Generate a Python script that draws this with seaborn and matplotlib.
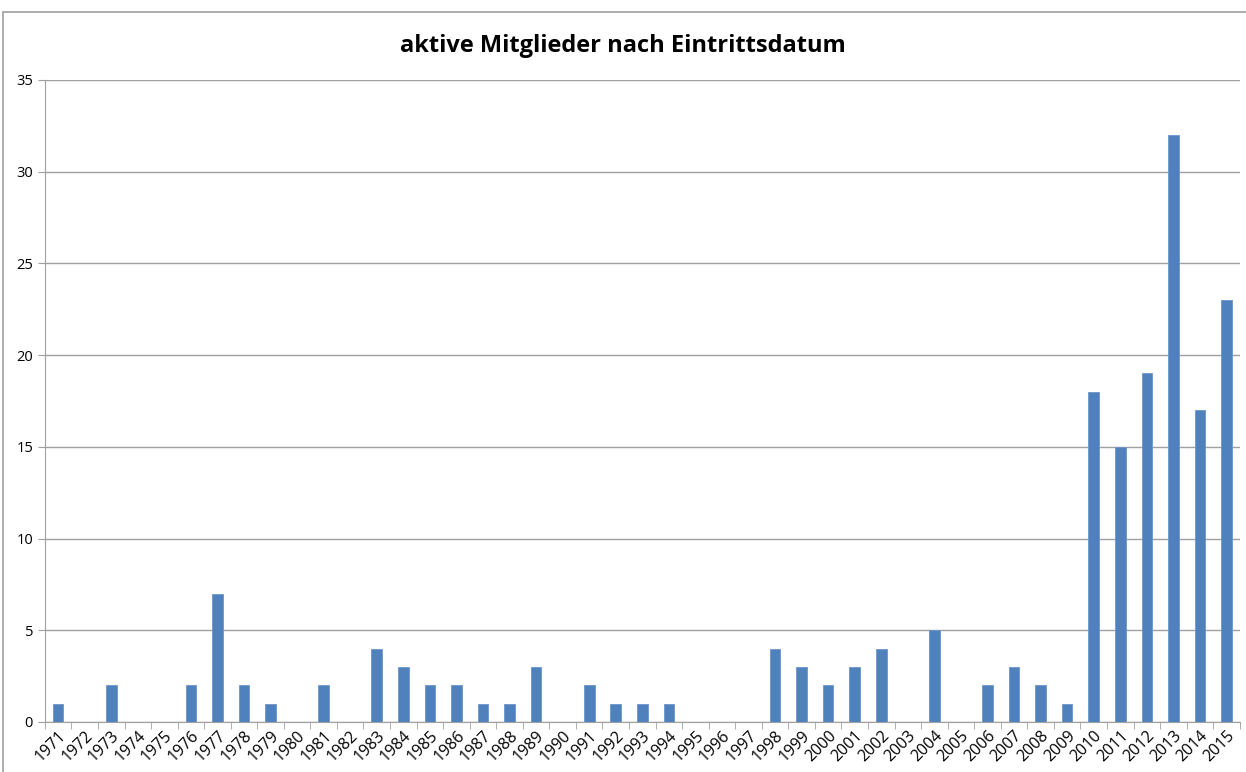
import matplotlib
matplotlib.use("Agg")
import matplotlib.pyplot as plt
import seaborn as sns
import pandas as pd
from matplotlib.patches import Rectangle
from matplotlib.ticker import FixedLocator

# Eintrittsjahre und Anzahl aktiver Mitglieder
jahre = [str(j) for j in range(1971, 2016)]
anzahl = [1, 0, 2, 0, 0, 2, 7, 2, 1, 0,
          2, 0, 4, 3, 2, 2, 1, 1, 3, 0,
          2, 1, 1, 1, 0, 0, 0, 4, 3, 2,
          3, 4, 0, 5, 0, 2, 3, 2, 1, 18,
          15, 19, 32, 17, 23]
titel = "aktive Mitglieder nach Eintrittsdatum"

df = pd.DataFrame({"Jahr": jahre, "Anzahl": anzahl})

sns.set_style("white")
plt.rcParams["font.family"] = ["Open Sans", "DejaVu Sans"]

fig = plt.figure(figsize=(12.46, 7.72), dpi=100)
ax = fig.add_axes([0.036, 0.0648, 0.959, 0.8316])

sns.barplot(data=df, x="Jahr", y="Anzahl", color="#4F81BD", width=0.4,
            saturation=1, edgecolor="#6E95C8", linewidth=0.6, ax=ax)

ax.set_xlim(-0.5, len(jahre) - 0.5)
ax.set_ylim(0, 35)
ax.set_yticks(range(0, 36, 5))
ax.yaxis.grid(True, color="#A0A0A0", linewidth=1)
ax.set_axisbelow(True)
ax.set_xlabel("")
ax.set_ylabel("")

for s in ["top", "right"]:
    ax.spines[s].set_visible(False)
ax.spines["left"].set_color("#A0A0A0")
ax.spines["bottom"].set_color("#A0A0A0")

# Teilstriche zwischen den Kategorien
ax.xaxis.set_minor_locator(FixedLocator([i - 0.5 for i in range(len(jahre) + 1)]))
ax.tick_params(axis="x", which="minor", length=5, color="#A0A0A0", direction="out", bottom=True)
ax.tick_params(axis="x", which="major", length=0, pad=4, labelcolor="black")
ax.tick_params(axis="y", length=5, color="#A0A0A0", direction="out", left=True,
               labelsize=10.5, labelcolor="black")
plt.setp(ax.get_xticklabels(), rotation=45, ha="right", rotation_mode="anchor", fontsize=11.5)

fig.text(0.5, 0.941, titel, ha="center", va="center", fontsize=17,
         fontweight="bold", color="black")

# Diagrammrahmen
fig.patches.append(Rectangle((0.0025, -0.01), 1.0, 0.995, transform=fig.transFigure,
                             fill=False, edgecolor="#A0A0A0", linewidth=1.2))

fig.savefig("out.png", dpi=100)
